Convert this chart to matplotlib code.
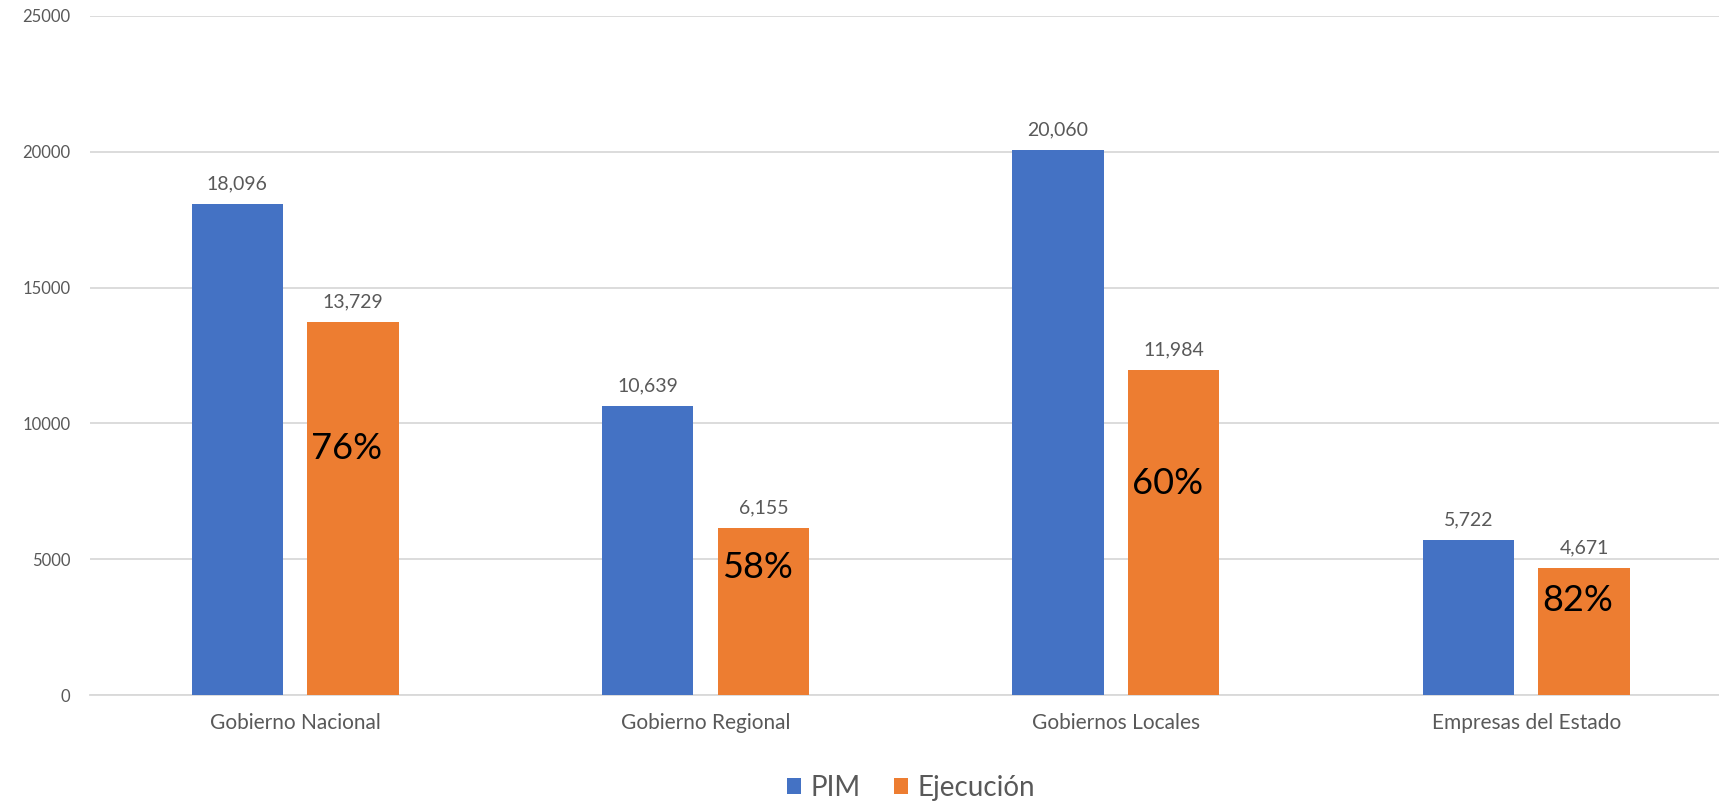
import matplotlib
matplotlib.use("Agg")
import matplotlib.pyplot as plt
import numpy as np
from matplotlib.patches import Patch

categories = ["Gobierno Nacional", "Gobierno Regional", "Gobiernos Locales", "Empresas del Estado"]
pim = [18096, 10639, 20060, 5722]
ejecucion = [13729, 6155, 11984, 4671]
pct_label_y = [9081, 4706, 7794, 3493]
yticks = [0, 5000, 10000, 15000, 20000, 25000]

plt.rcParams['font.family'] = ['Lato', 'DejaVu Sans']

BLUE = "#4472C4"
ORANGE = "#ED7D31"
GRID = "#D9D9D9"
TXT = "#595959"

fig = plt.figure(figsize=(17.19, 8.01), dpi=100)
ax = fig.add_axes([90/1719, 1-695/801, 1-90/1719, (695-16)/801])

x = np.arange(len(categories))
w = 0.222
off = 0.141
b1 = ax.bar(x - off, pim, width=w, color=BLUE, zorder=3)
b2 = ax.bar(x + off, ejecucion, width=w, color=ORANGE, zorder=3)

for xi, v in zip(x - off, pim):
    ax.annotate(f"{v:,}", (xi, v), xytext=(0, 10.5), textcoords="offset points",
                ha="center", va="baseline", fontsize=14, color=TXT)
for xi, v in zip(x + off, ejecucion):
    ax.annotate(f"{v:,}", (xi, v), xytext=(0, 10.5), textcoords="offset points",
                ha="center", va="baseline", fontsize=14, color=TXT)
for xi, p, e, yl in zip(x + off, pim, ejecucion, pct_label_y):
    ax.text(xi - 0.015, yl, f"{round(100*e/p)}%", ha="center", va="center",
            fontsize=26, color="black", zorder=4)

ax.set_xlim(-0.5, 3.47)
ax.set_ylim(0, 25000)
ax.set_yticks(yticks)
ax.set_yticklabels([str(t) for t in yticks])
ax.set_xticks(x)
ax.set_xticklabels(categories)
ax.tick_params(axis="y", length=0, pad=14, labelsize=12, labelcolor=TXT)
ax.tick_params(axis="x", length=0, pad=13, labelsize=15, labelcolor=TXT)
ax.yaxis.grid(True, color=GRID, linewidth=1.3, zorder=0)
ax.set_axisbelow(True)
for s in ["top", "right", "left"]:
    ax.spines[s].set_visible(False)
ax.spines["bottom"].set_color(GRID)
ax.spines["bottom"].set_linewidth(1.3)

handles = [Patch(facecolor=BLUE, label="PIM"), Patch(facecolor=ORANGE, label="Ejecución")]
fig.legend(handles=handles, loc="center", bbox_to_anchor=(911/1719, 1-788/801),
           ncol=2, frameon=False, fontsize=20, labelcolor=TXT,
           handlelength=0.5, handleheight=0.5, handletextpad=0.35, columnspacing=1.2)

fig.savefig("out.png", dpi=100)
